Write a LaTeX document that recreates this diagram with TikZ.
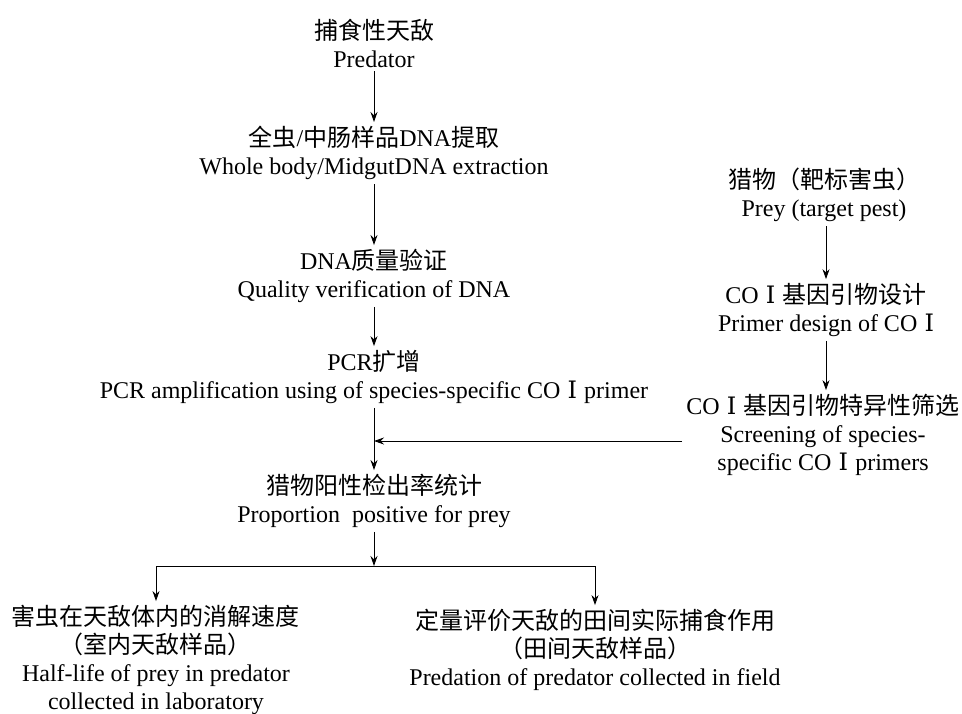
\documentclass[tikz,border=0pt]{standalone}
\usepackage{fontspec}
\setmainfont{Liberation Serif}
\newfontfamily\cjk{Noto Sans CJK SC}
\newfontfamily\rnum{DejaVu Serif}
\usetikzlibrary{arrows.meta}
\newcommand{\zh}[1]{{\cjk #1}}
\newcommand{\RI}{\hspace{0.3em}{\rnum Ⅰ}\hspace{0.3em}}
\begin{document}
\begin{tikzpicture}[x=1pt,y=-1pt,
  lbl/.style={align=center,font=\fontsize{24}{28}\selectfont,inner sep=4pt},
  arr/.style={-{Stealth[length=10pt,width=7pt]},line width=0.9pt},
  ln/.style={line width=0.9pt}]
\useasboundingbox (0,0) rectangle (962,713);
% main column
\node[lbl] (pred) at (374,43) {\zh{捕食性天敌}\\Predator};
\node[lbl] (extr) at (374,153) {\zh{全虫}/\zh{中肠样品}DNA\zh{提取}\\Whole body/MidgutDNA extraction};
\node[lbl] (qual) at (374,276) {DNA\zh{质量验证}\\Quality verification of DNA};
\node[lbl] (pcr) at (374,377) {PCR\zh{扩增}\\PCR amplification using of species-specific CO\RI primer};
\node[lbl] (prop) at (374,501) {\zh{猎物阳性检出率统计}\\Proportion~ positive for prey};
\coordinate (split) at (374,566);
\node[lbl] (lb) at (156,660) {\zh{害虫在天敌体内的消解速度}\\\zh{（室内天敌样品）}\\Half-life of prey in predator\\collected in laboratory};
\node[lbl] (rb) at (595,650) {\zh{定量评价天敌的田间实际捕食作用}\\\zh{（田间天敌样品）}\\Predation of predator collected in field};
% right column
\node[lbl] (prey) at (824,195) {\zh{猎物（靶标害虫）}\\Prey (target pest)};
\node[lbl] (design) at (826,310) {CO\RI\zh{基因引物设计}\\Primer design of CO\RI};
\node[lbl] (screen) at (823,435) {CO\RI\zh{基因引物特异性筛选}\\Screening of species-\\specific CO\RI primers};
% connectors
\draw[arr] (pred.south) -- (extr.north);
\draw[arr] (extr.south) -- (qual.north);
\draw[arr] (qual.south) -- (pcr.north);
\draw[arr] (pcr.south) -- (prop.north);
\draw[arr] ([yshift=-6pt]screen.west) -- ([yshift=-6pt]pcr.south |- screen.west);
\draw[arr] (prop.south) -- (split);
\draw[arr] (split) -| (lb.north);
\draw[arr] (split) -| (rb.north);
\draw[arr] (prey.south -| design.north) -- (design.north);
\draw[arr] (design.south) -- (design.south |- screen.north);
\end{tikzpicture}
\end{document}
